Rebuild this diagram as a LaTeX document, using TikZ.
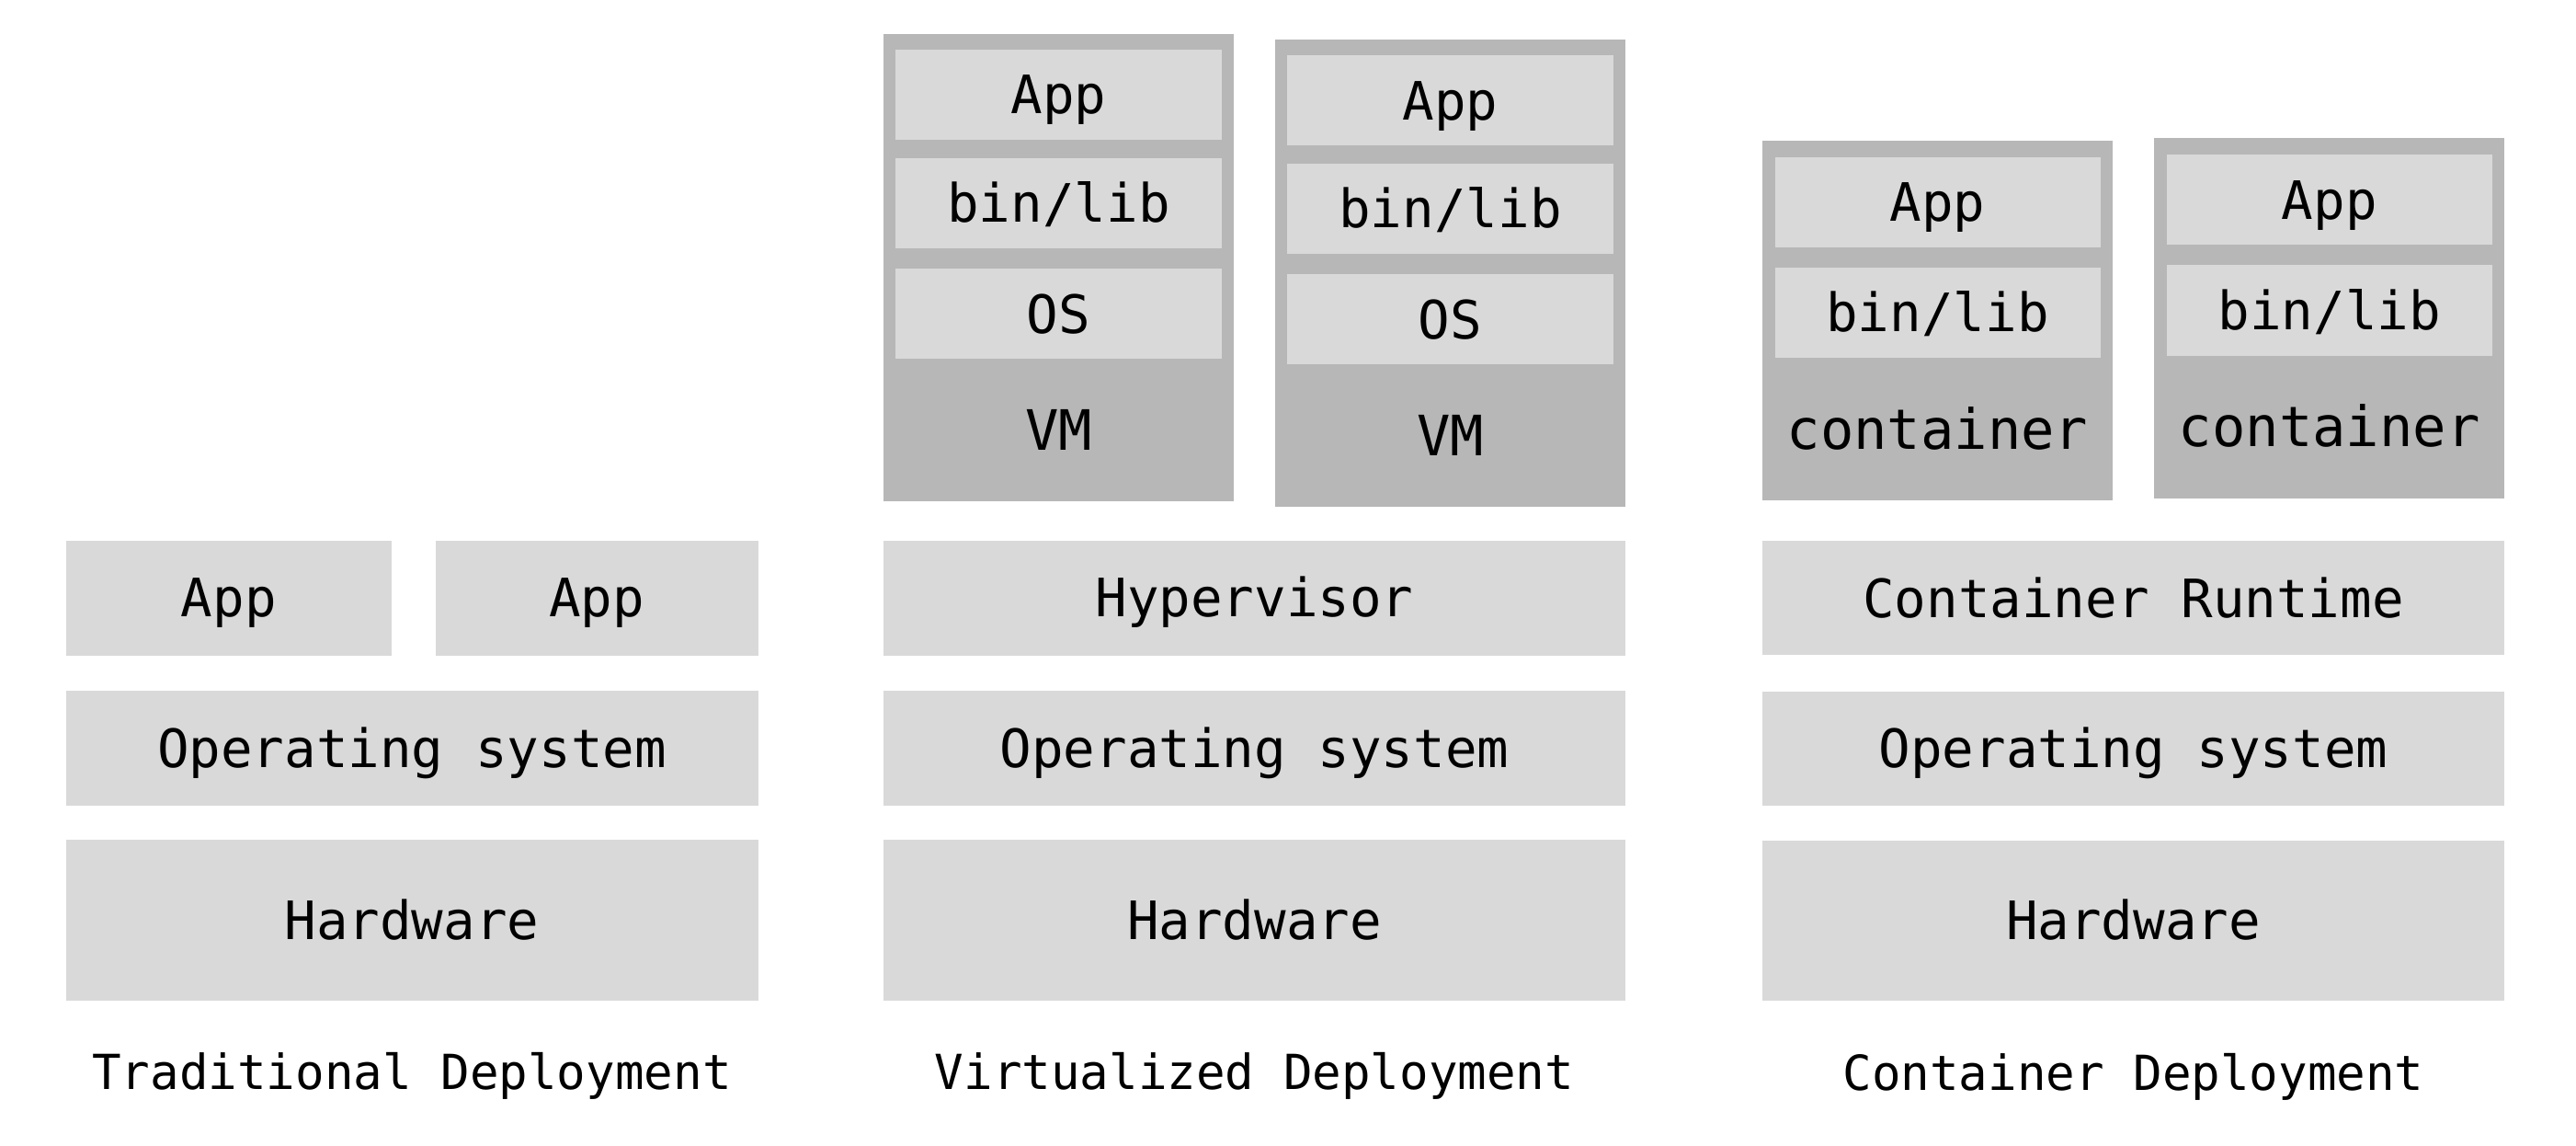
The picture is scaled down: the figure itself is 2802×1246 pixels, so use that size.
\documentclass[tikz,border=0pt]{standalone}
\usepackage{fontspec}
\newfontfamily\monofam{DejaVu Sans Mono}
\definecolor{lightg}{HTML}{D9D9D9}
\definecolor{darkg}{HTML}{B7B7B7}
\tikzset{
  layer/.style={fill=lightg, inner sep=0pt, text height=41.9pt, text depth=0pt,
    font={\monofam\fontsize{57.5}{60}\selectfont}},
  shell/.style={fill=darkg, inner sep=0pt},
  shelltext/.style={inner sep=0pt, text height=43.7pt, text depth=0pt,
    font={\monofam\fontsize{60.5}{63}\selectfont}},
  caption/.style={inner sep=0pt, anchor=base,
    font={\monofam\fontsize{52.5}{56}\selectfont}}
}
\begin{document}
\begin{tikzpicture}[x=1pt,y=-1pt]
\useasboundingbox (0,0) rectangle (2802,1246);

% ---------- Traditional ----------
\node[layer, minimum width=354.5pt, minimum height=125pt] (tapp1) at (248.75,650) {App};
\node[layer, minimum width=351pt, minimum height=125pt] (tapp2) at (649,650) {App};
\node[layer, minimum width=753pt, minimum height=124.5pt] (tos) at (448,813.25) {Operating system};
\node[layer, minimum width=753pt, minimum height=174.2pt] (thw) at (448,1000.4) {Hardware};
\node[caption] (tcap) at (448,1184.8) {Traditional Deployment};

% ---------- Virtualized ----------
\node[layer, minimum width=807pt, minimum height=125pt] (vhyp) at (1364.5,650) {Hypervisor};
\node[layer, minimum width=807pt, minimum height=124.5pt] (vos) at (1364.5,813.25) {Operating system};
\node[layer, minimum width=807pt, minimum height=174.2pt] (vhw) at (1364.5,1000.4) {Hardware};
\node[caption] (vcap) at (1364.5,1184.8) {Virtualized Deployment};

% VM 1
\node[shell, minimum width=381pt, minimum height=508pt] (vm1) at (1151.5,291) {};
\node[layer, minimum width=355pt, minimum height=98.3pt] (vm1app) at (1151.5,103.05) {App};
\node[layer, minimum width=355pt, minimum height=98.2pt] (vm1bin) at (1151.5,220.7) {bin/lib};
\node[layer, minimum width=355pt, minimum height=97.9pt] (vm1os) at (1151.5,341.25) {OS};
\node[shelltext] (vm1lbl) at (1151.5,467.8) {VM};

% VM 2
\node[shell, minimum width=381pt, minimum height=508pt] (vm2) at (1577.5,297.3) {};
\node[layer, minimum width=355pt, minimum height=98.3pt] (vm2app) at (1577.5,109.25) {App};
\node[layer, minimum width=355pt, minimum height=98.2pt] (vm2bin) at (1577.5,226.9) {bin/lib};
\node[layer, minimum width=355pt, minimum height=97.9pt] (vm2os) at (1577.5,347.45) {OS};
\node[shelltext] (vm2lbl) at (1577.5,474) {VM};

% ---------- Container ----------
\node[layer, minimum width=807pt, minimum height=124pt] (crt) at (2320.5,650.3) {Container Runtime};
\node[layer, minimum width=807pt, minimum height=124pt] (cos) at (2320.5,813.8) {Operating system};
\node[layer, minimum width=807pt, minimum height=174.5pt] (chw) at (2320.5,1000.9) {Hardware};
\node[caption] (ccap) at (2320.5,1185.3) {Container Deployment};

% container 1
\node[shell, minimum width=381pt, minimum height=391.3pt] (c1) at (2107.5,348.65) {};
\node[layer, minimum width=354pt, minimum height=98pt] (c1app) at (2107.5,220) {App};
\node[layer, minimum width=354pt, minimum height=98pt] (c1bin) at (2107.5,340) {bin/lib};
\node[shelltext] (c1lbl) at (2107.5,466.3) {container};

% container 2
\node[shell, minimum width=380.6pt, minimum height=391.7pt] (c2) at (2533.7,345.85) {};
\node[layer, minimum width=354pt, minimum height=98pt] (c2app) at (2533.7,217.2) {App};
\node[layer, minimum width=354pt, minimum height=98pt] (c2bin) at (2533.7,337.5) {bin/lib};
\node[shelltext] (c2lbl) at (2533.7,463.5) {container};
\end{tikzpicture}
\end{document}
